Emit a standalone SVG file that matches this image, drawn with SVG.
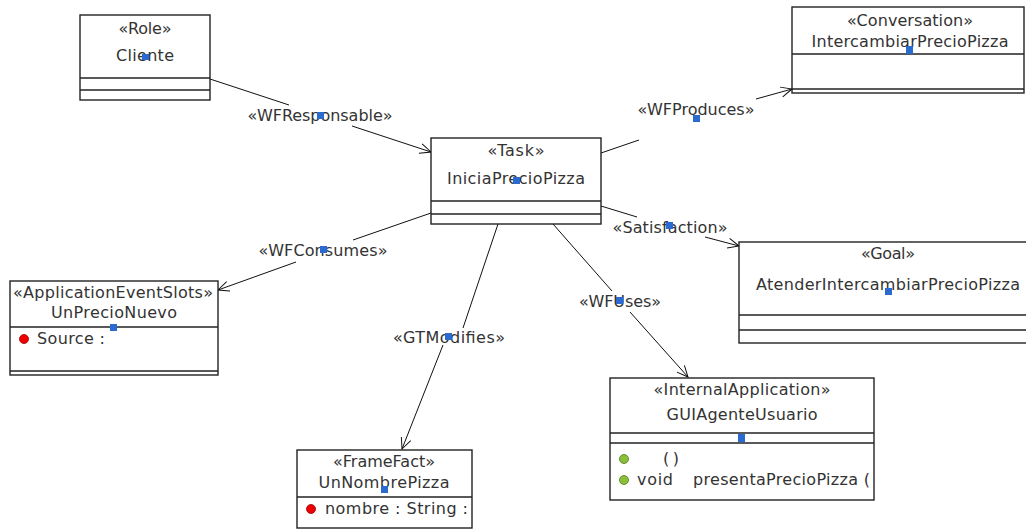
<svg xmlns="http://www.w3.org/2000/svg" width="1026" height="529" viewBox="0 0 1026 529">
<style>
  text { font-family: "DejaVu Sans", Verdana, sans-serif; font-size: 16px; fill: #333; }
  .c { text-anchor: middle; }
  .box { fill: #fff; stroke: #222; stroke-width: 1.4; }
  .div { stroke: #222; stroke-width: 1.4; }
  .edge { stroke: #111; stroke-width: 1; fill: none; }
  .h { fill: #2a6ad1; }
  .red { fill: #e00; stroke: #900; stroke-width: 0.8; }
  .green { fill: #8bbf3a; stroke: #4f7a1a; stroke-width: 0.8; }
</style>
<defs>
  <marker id="arr" markerUnits="userSpaceOnUse" markerWidth="14" markerHeight="12" refX="12" refY="6" orient="auto">
    <path d="M1,1 L12,6 L1,11" fill="none" stroke="#111" stroke-width="1"/>
  </marker>
</defs>
<rect width="1026" height="529" fill="#fff"/>

<g id="connectors">
  <g id="e-wfresponsable">
    <line class="edge" x1="210" y1="79" x2="289" y2="105"/>
    <line class="edge" x1="352" y1="126" x2="431" y2="152" marker-end="url(#arr)"/>
    <text class="c" x="320" y="121" textLength="145">«WFResponsable»</text>
    <rect class="h" x="317" y="112" width="7" height="7"/>
  </g>
  <g id="e-wfproduces">
    <line class="edge" x1="601" y1="153" x2="639" y2="140"/>
    <line class="edge" x1="756" y1="99" x2="792" y2="89" marker-end="url(#arr)"/>
    <text class="c" x="696" y="115" textLength="117">«WFProduces»</text>
    <rect class="h" x="693" y="115" width="7" height="7"/>
  </g>
  <g id="e-satisfaction">
    <line class="edge" x1="601" y1="206" x2="637" y2="217"/>
    <line class="edge" x1="705" y1="237" x2="739" y2="246" marker-end="url(#arr)"/>
    <text class="c" x="670" y="233" textLength="115">«Satisfaction»</text>
    <rect class="h" x="666" y="222" width="7" height="7"/>
  </g>
  <g id="e-wfuses">
    <line class="edge" x1="553" y1="224" x2="612" y2="291"/>
    <line class="edge" x1="630" y1="312" x2="688" y2="377" marker-end="url(#arr)"/>
    <text class="c" x="620" y="307" textLength="82">«WFUses»</text>
    <rect class="h" x="616" y="297" width="7" height="7"/>
  </g>
  <g id="e-wfconsumes">
    <line class="edge" x1="431" y1="213" x2="353" y2="240"/>
    <line class="edge" x1="296" y1="262" x2="218" y2="290" marker-end="url(#arr)"/>
    <text class="c" x="323" y="256" textLength="129">«WFConsumes»</text>
    <rect class="h" x="320" y="246" width="7" height="7"/>
  </g>
  <g id="e-gtmodifies">
    <line class="edge" x1="498" y1="224" x2="463" y2="328"/>
    <line class="edge" x1="443" y1="345" x2="402" y2="449" marker-end="url(#arr)"/>
    <text class="c" x="449" y="343" textLength="112">«GTModifies»</text>
    <rect class="h" x="445" y="333" width="7" height="7"/>
  </g>
</g>

<g id="n-cliente">
  <rect class="box" x="80" y="15" width="130" height="85"/>
  <line class="div" x1="80" y1="78" x2="210" y2="78"/>
  <line class="div" x1="80" y1="90" x2="210" y2="90"/>
  <text class="c" x="145" y="34" textLength="53">«Role»</text>
  <text class="c" x="145" y="61" textLength="58">Cliente</text>
  <rect class="h" x="142" y="54" width="7" height="6"/>
</g>

<g id="n-task">
  <rect class="box" x="431" y="138" width="170" height="86"/>
  <line class="div" x1="431" y1="201" x2="601" y2="201"/>
  <line class="div" x1="431" y1="214" x2="601" y2="214"/>
  <text class="c" x="516" y="156" textLength="57">«Task»</text>
  <text class="c" x="516" y="184" textLength="138">IniciaPrecioPizza</text>
  <rect class="h" x="513" y="177" width="7" height="7"/>
</g>

<g id="n-conversation">
  <rect class="box" x="792" y="7" width="232" height="86"/>
  <line class="div" x1="792" y1="54" x2="1024" y2="54"/>
  <line class="div" x1="792" y1="89" x2="1024" y2="89"/>
  <text class="c" x="910" y="26" textLength="126">«Conversation»</text>
  <text class="c" x="910" y="47" textLength="197">IntercambiarPrecioPizza</text>
  <rect class="h" x="906" y="46" width="7" height="8"/>
</g>

<g id="n-goal">
  <rect class="box" x="739" y="242" width="295" height="101"/>
  <line class="div" x1="739" y1="315" x2="1034" y2="315"/>
  <line class="div" x1="739" y1="330" x2="1034" y2="330"/>
  <text class="c" x="888" y="259" textLength="54">«Goal»</text>
  <text class="c" x="888" y="290" textLength="264">AtenderIntercambiarPrecioPizza</text>
  <rect class="h" x="885" y="288" width="7" height="7"/>
</g>

<g id="n-unprecionuevo">
  <rect class="box" x="10" y="281" width="208" height="94"/>
  <line class="div" x1="10" y1="327" x2="218" y2="327"/>
  <line class="div" x1="10" y1="371" x2="218" y2="371"/>
  <text class="c" x="113" y="298" textLength="200">«ApplicationEventSlots»</text>
  <text class="c" x="114" y="318" textLength="126">UnPrecioNuevo</text>
  <rect class="h" x="110" y="324" width="7" height="7"/>
  <circle class="red" cx="24" cy="339" r="4.5"/>
  <text x="37" y="344" textLength="68">Source :</text>
</g>

<g id="n-unnombrepizza">
  <rect class="box" x="297" y="450" width="175" height="78"/>
  <line class="div" x1="297" y1="497" x2="472" y2="497"/>
  <text class="c" x="384" y="467" textLength="102">«FrameFact»</text>
  <text class="c" x="384" y="488" textLength="131">UnNombrePizza</text>
  <rect class="h" x="381" y="486" width="7" height="7"/>
  <circle class="red" cx="311" cy="509" r="4.5"/>
  <text x="325" y="514" textLength="143">nombre : String :</text>
</g>

<g id="n-guiagenteusuario">
  <rect class="box" x="610" y="378" width="264" height="122"/>
  <line class="div" x1="610" y1="433" x2="874" y2="433"/>
  <line class="div" x1="610" y1="443" x2="874" y2="443"/>
  <text class="c" x="742" y="395" textLength="177">«InternalApplication»</text>
  <text class="c" x="742" y="420" textLength="151">GUIAgenteUsuario</text>
  <rect class="h" x="738" y="434" width="7" height="8"/>
  <circle class="green" cx="624" cy="459" r="4.5"/>
  <text x="663" y="464" textLength="16">( )</text>
  <circle class="green" cx="624" cy="480" r="4.5"/>
  <text x="637" y="485" textLength="36">void</text>
  <text x="693" y="485" textLength="177">presentaPrecioPizza (</text>
</g>
</svg>
